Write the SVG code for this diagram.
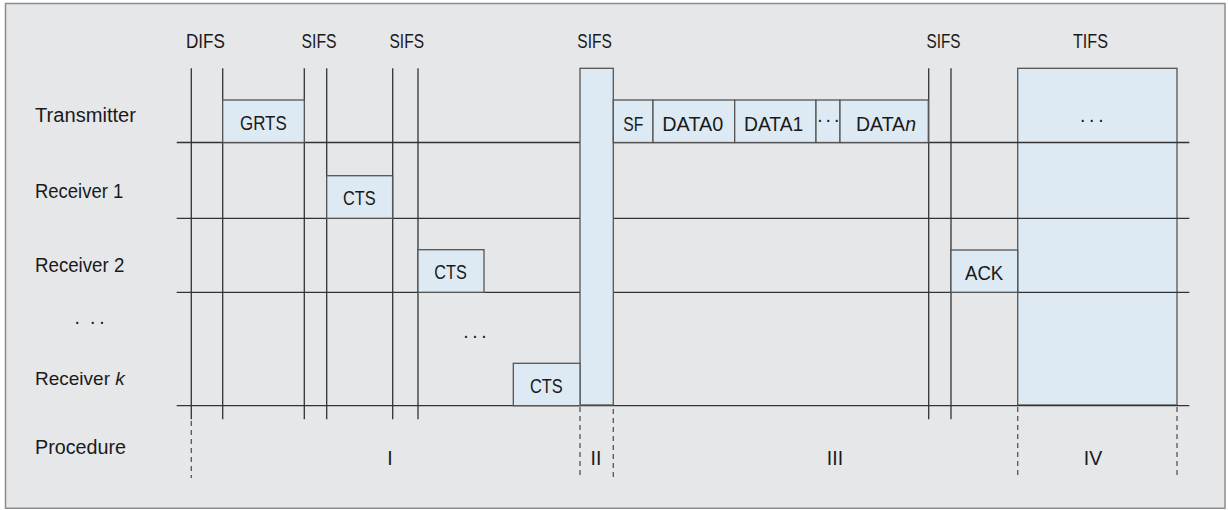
<svg xmlns="http://www.w3.org/2000/svg" width="1228" height="510" viewBox="0 0 1228 510">
<style>
.t{font-family:"Liberation Sans",Arial,sans-serif;font-size:19.5px;fill:#1a1a1a}
.m{text-anchor:middle}
.ln{stroke:#333;stroke-width:1.3;fill:none}
.dash{stroke:#555;stroke-width:1.3;stroke-dasharray:5 4;fill:none}
.box{fill:#ddeaf4;stroke:#555;stroke-width:1.3}
</style>
<rect x="5.5" y="3.5" width="1219.5" height="1004.8" fill="#fff" stroke="none"/>
<rect x="5.5" y="3.5" width="1219.5" height="504.8" fill="#e6e7e9" stroke="#8c8c8c" stroke-width="1.5"/>

<g id="tifs-block">
<rect class="box" x="1017.7" y="68.3" width="159.3" height="336.7"/>
<text class="t" x="1080 1089 1098.3" y="122">...</text>
</g>

<g id="connectors">
<line class="ln" x1="176.7" y1="142.5" x2="1189.3" y2="142.5"/>
<line class="ln" x1="176.7" y1="218.3" x2="1189.3" y2="218.3"/>
<line class="ln" x1="176.7" y1="292.3" x2="1189.3" y2="292.3"/>
<line class="ln" x1="176.7" y1="405.7" x2="1189.3" y2="405.7"/>
<line class="ln" x1="191.3" y1="68.3" x2="191.3" y2="419.3"/>
<line class="ln" x1="222.7" y1="68.3" x2="222.7" y2="419.3"/>
<line class="ln" x1="304.3" y1="68.3" x2="304.3" y2="419.3"/>
<line class="ln" x1="326.7" y1="68.3" x2="326.7" y2="419.3"/>
<line class="ln" x1="392.7" y1="68.3" x2="392.7" y2="419.3"/>
<line class="ln" x1="418" y1="68.3" x2="418" y2="419.3"/>
<line class="ln" x1="928.7" y1="68.3" x2="928.7" y2="419.3"/>
<line class="ln" x1="951" y1="68.3" x2="951" y2="419.3"/>
<line class="dash" x1="191.3" y1="421" x2="191.3" y2="478"/>
<line class="dash" x1="580" y1="407" x2="580" y2="475"/>
<line class="dash" x1="613.3" y1="409" x2="613.3" y2="479.3"/>
<line class="dash" x1="1017.7" y1="407" x2="1017.7" y2="475"/>
<line class="dash" x1="1177" y1="407" x2="1177" y2="475"/>
</g>

<g id="sifs-block">
<rect class="box" x="580" y="68.3" width="33.3" height="336.7"/>
</g>

<g id="grts">
<rect class="box" x="222.7" y="100" width="81.6" height="42.5"/>
<text class="t" x="240" y="130" textLength="46.7" lengthAdjust="spacingAndGlyphs">GRTS</text>
</g>
<g id="cts1">
<rect class="box" x="326.7" y="175.7" width="65.9" height="42.6"/>
<text class="t" x="343" y="205" textLength="32.7" lengthAdjust="spacingAndGlyphs">CTS</text>
</g>
<g id="cts2">
<rect class="box" x="418" y="249.7" width="66" height="42.6"/>
<text class="t" x="434.3" y="279.3" textLength="32.4" lengthAdjust="spacingAndGlyphs">CTS</text>
</g>
<g id="ctsk">
<rect class="box" x="513.3" y="363.3" width="66.7" height="42.4"/>
<text class="t" x="530" y="392.7" textLength="32.7" lengthAdjust="spacingAndGlyphs">CTS</text>
</g>
<g id="sf">
<rect class="box" x="613.3" y="100" width="39.7" height="42.5"/>
<text class="t" x="623.3" y="130.7" textLength="20" lengthAdjust="spacingAndGlyphs">SF</text>
</g>
<g id="data0">
<rect class="box" x="653" y="100" width="81.7" height="42.5"/>
<text class="t" x="662.3" y="130.7" textLength="61" lengthAdjust="spacingAndGlyphs">DATA0</text>
</g>
<g id="data1">
<rect class="box" x="734.7" y="100" width="81.3" height="42.5"/>
<text class="t" x="744" y="130.7" textLength="59.3" lengthAdjust="spacingAndGlyphs">DATA1</text>
</g>
<g id="data-dots">
<rect class="box" x="816" y="100" width="24" height="42.5"/>
<text class="t" x="817.3 825.6 834" y="122">...</text>
</g>
<g id="datan">
<rect class="box" x="840" y="100" width="88.3" height="42.5"/>
<text class="t" x="856" y="130.7">DATA<tspan font-style="italic">n</tspan></text>
</g>
<g id="ack">
<rect class="box" x="951" y="250" width="66.7" height="42.3"/>
<text class="t" x="965" y="280" textLength="38.3" lengthAdjust="spacingAndGlyphs">ACK</text>
</g>

<g id="interval-labels">
<text class="t" x="186" y="48" textLength="39" lengthAdjust="spacingAndGlyphs">DIFS</text>
<text class="t" x="301.5" y="48" textLength="35" lengthAdjust="spacingAndGlyphs">SIFS</text>
<text class="t" x="389.5" y="48" textLength="34.5" lengthAdjust="spacingAndGlyphs">SIFS</text>
<text class="t" x="577.3" y="48" textLength="34.5" lengthAdjust="spacingAndGlyphs">SIFS</text>
<text class="t" x="926.5" y="48" textLength="34" lengthAdjust="spacingAndGlyphs">SIFS</text>
<text class="t" x="1073" y="48" textLength="35" lengthAdjust="spacingAndGlyphs">TIFS</text>
</g>

<g id="row-labels">
<text class="t" x="35" y="121.7" textLength="101" lengthAdjust="spacingAndGlyphs">Transmitter</text>
<text class="t" x="35" y="198.3" textLength="88.3" lengthAdjust="spacingAndGlyphs">Receiver 1</text>
<text class="t" x="35" y="271.7" textLength="89.3" lengthAdjust="spacingAndGlyphs">Receiver 2</text>
<text class="t" x="74.6 90 99.3" y="323.7">...</text>
<text class="t" x="35" y="385" style="font-size:19px">Receiver <tspan font-style="italic">k</tspan></text>
<text class="t" x="35" y="454" textLength="91" lengthAdjust="spacingAndGlyphs">Procedure</text>
</g>

<g id="middle-dots">
<text class="t" x="463.3 472.3 481.3" y="338.3">...</text>
</g>

<g id="procedure-labels">
<text class="t m" x="390" y="464.5">I</text>
<text class="t m" x="596" y="464.5">II</text>
<text class="t m" x="835" y="464.5">III</text>
<text class="t m" x="1093" y="464.5">IV</text>
</g>
</svg>
